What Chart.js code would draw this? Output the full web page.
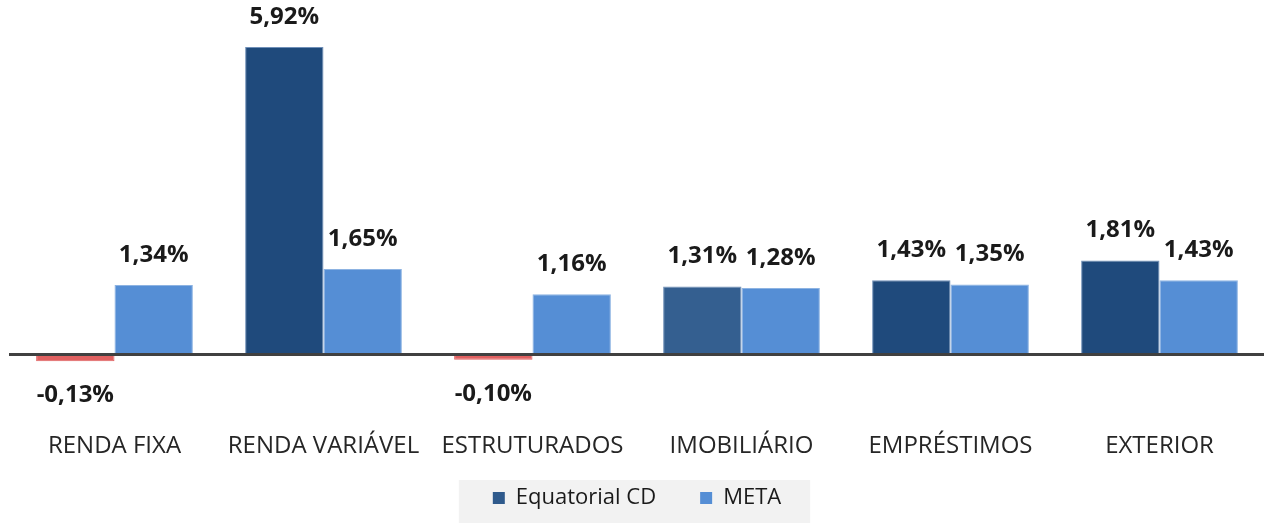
<!DOCTYPE html>
<html>
<head>
<meta charset="utf-8">
<script src="https://cdn.jsdelivr.net/npm/chart.js@4/dist/chart.umd.min.js"></script>
<style>
  html, body { margin: 0; padding: 0; background: #ffffff; }
  #wrap { width: 1271px; height: 523px; position: relative; }
</style>
</head>
<body>
<div id="wrap"><canvas id="c"></canvas></div>
<script>
const categories = ['RENDA FIXA', 'RENDA VARIÁVEL', 'ESTRUTURADOS', 'IMOBILIÁRIO', 'EMPRÉSTIMOS', 'EXTERIOR'];
const equatorialValues = [-0.13, 5.92, -0.10, 1.31, 1.43, 1.81];
const metaValues = [1.34, 1.65, 1.16, 1.28, 1.35, 1.43];
const seriesNames = ['Equatorial CD', 'META'];

const DARK = '#1F4A7C';
const DARK_ALT = '#345F90';
const LIGHT = '#558ED5';
const RED = '#E06060';

function fmt(v) { return v.toFixed(2).replace('.', ',') + '%'; }

const equatorialColors = equatorialValues.map((v, i) => v < 0 ? RED : (i === 3 ? DARK_ALT : DARK));
const equatorialBorders = equatorialValues.map((v) => v < 0 ? RED : '#6F8FB8');

const valueLabels = {
  id: 'valueLabels',
  afterDatasetsDraw(chart) {
    const ctx = chart.ctx;
    ctx.save();
    ctx.font = 'bold 24px "Open Sans"';
    ctx.fillStyle = '#1A1A1A';
    ctx.textAlign = 'center';
    ctx.textBaseline = 'middle';
    chart.data.datasets.forEach((ds, di) => {
      const meta = chart.getDatasetMeta(di);
      meta.data.forEach((bar, i) => {
        const v = ds.data[i];
        const y = v >= 0 ? bar.y - 30 : bar.y + 34;
        ctx.fillText(fmt(v), bar.x, y);
      });
    });
    ctx.restore();
  }
};

const zeroLine = {
  id: 'zeroLine',
  afterDatasetsDraw(chart) {
    const ctx = chart.ctx;
    const y = chart.scales.y.getPixelForValue(0);
    ctx.save();
    ctx.strokeStyle = '#404040';
    ctx.lineWidth = 3;
    ctx.beginPath();
    ctx.moveTo(chart.chartArea.left - 1, y);
    ctx.lineTo(chart.chartArea.right, y);
    ctx.stroke();
    ctx.restore();
  }
};

const shiftXLabels = {
  id: 'shiftXLabels',
  afterLayout(chart) {
    const s = chart.scales.x;
    s.top += 18;
    s.bottom += 18;
  }
};

const legendBg = {
  id: 'legendBg',
  beforeDraw(chart) {
    const lg = chart.legend;
    if (!lg || !lg.legendHitBoxes || !lg.legendHitBoxes.length) return;
    const boxes = lg.legendHitBoxes;
    const left = Math.min(...boxes.map(b => b.left)) - 34;
    const right = Math.max(...boxes.map(b => b.left + b.width)) + 29;
    const ctx = chart.ctx;
    ctx.save();
    ctx.fillStyle = '#F2F2F2';
    ctx.fillRect(left, 480, right - left, 523 - 480);
    ctx.restore();
  }
};

new Chart(document.getElementById('c'), {
  type: 'bar',
  data: {
    labels: categories,
    datasets: [
      {
        label: seriesNames[0],
        data: equatorialValues,
        backgroundColor: equatorialColors,
        borderColor: equatorialBorders,
        borderWidth: 1,
        categoryPercentage: 0.75,
        barPercentage: 1.0
      },
      {
        label: seriesNames[1],
        data: metaValues,
        backgroundColor: LIGHT,
        borderColor: '#8DB3E2',
        borderWidth: 1,
        categoryPercentage: 0.75,
        barPercentage: 1.0
      }
    ]
  },
  options: {
    responsive: true,
    maintainAspectRatio: false,
    animation: false,
    layout: { padding: { left: 10, right: 7, top: 0, bottom: 4 } },
    scales: {
      x: {
        grid: { display: false },
        border: { display: false },
        ticks: {
          color: '#262626',
          font: { family: '"Open Sans"', size: 24 },
          padding: 0,
          maxRotation: 0,
          autoSkip: false
        }
      },
      y: {
        display: false,
        min: -0.993,
        max: 6.826
      }
    },
    plugins: {
      legend: {
        position: 'bottom',
        labels: {
          color: '#1A1A1A',
          font: { family: '"Open Sans"', size: 22 },
          boxWidth: 12,
          boxHeight: 12,
          padding: 44,
          generateLabels(chart) {
            return chart.data.datasets.map((ds, i) => ({
              text: ds.label,
              fillStyle: i === 0 ? '#2F5A8C' : LIGHT,
              strokeStyle: i === 0 ? '#2F5A8C' : LIGHT,
              lineWidth: 0,
              datasetIndex: i,
              hidden: false,
              fontColor: '#1A1A1A'
            }));
          }
        }
      },
      tooltip: { enabled: false }
    }
  },
  plugins: [legendBg, shiftXLabels, zeroLine, valueLabels]
});
</script>
</body>
</html>
